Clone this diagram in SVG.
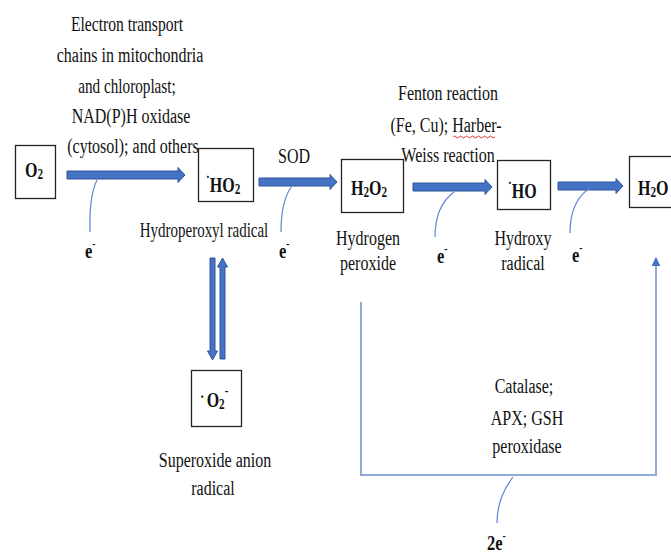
<svg xmlns="http://www.w3.org/2000/svg" width="671" height="553" viewBox="0 0 671 553">
<defs>
<style>
.t{font-family:"Liberation Serif","Times New Roman",serif;font-size:20px;fill:#111;text-anchor:middle}
.e{font-family:"Liberation Serif","Times New Roman",serif;font-size:22px;font-weight:bold;fill:#111}
.b{font-family:"Liberation Serif","Times New Roman",serif;font-size:20px;font-weight:bold;fill:#111}
.box{fill:#fff;stroke:#222;stroke-width:1.3}
.ar{fill:#4472C4;stroke:#2F5597;stroke-width:1}
.ln{fill:none;stroke:#5B86D1;stroke-width:1.2}
.br{fill:none;stroke:#8FAADC;stroke-width:2}
</style>
<marker id="ah" viewBox="0 0 10 10" refX="9" refY="5" markerWidth="9" markerHeight="9" markerUnits="userSpaceOnUse" orient="auto">
<path d="M0,0 L10,5 L0,10 z" fill="#4472C4"/>
</marker>
</defs>
<rect width="671" height="553" fill="#fff"/>

<g id="connectors">
<polygon class="ar" points="67,171 178,171 178,167.5 185,175 178,182.5 178,179 67,179"/>
<polygon class="ar" points="259,178 330,178 330,174.5 337,182 330,189.5 330,186 259,186"/>
<polygon class="ar" points="413,183 485,183 485,179.5 492,187 485,194.5 485,191 413,191"/>
<polygon class="ar" points="558,182 616,182 616,178.5 623,186 616,193.5 616,190 558,190"/>
<polygon class="ar" points="210,258 215,258 215,351 217.5,351 212.5,360 207.5,351 210,351"/>
<polygon class="ar" points="220,359 225,359 225,267 227.5,267 222.5,258 217.5,267 220,267"/>
<path class="ln" d="M97,180 Q89,196 90,232"/>
<path class="ln" d="M292,186 Q281,200 281,232"/>
<path class="ln" d="M454,192 Q435,206 435,237"/>
<path class="ln" d="M590,188 Q570,201 570,233"/>
<path class="br" d="M361,302 V475 H656 V258" marker-end="url(#ah)"/>
<path class="ln" d="M513,477 Q497,498 497,523"/>
<path d="M453,137 q1.5,-2 3,0 t3,0 t3,0 t3,0 t3,0 t3,0 t3,0 t3,0 t3,0 t3,0 t3,0 t3,0 t3,0 t3,0" fill="none" stroke="#e02020" stroke-width="0.9"/>
</g>

<g id="label-source">
<text class="t" transform="translate(127,31) scale(0.78,1)">Electron transport</text>
<text class="t" transform="translate(130,62) scale(0.8,1)">chains in mitochondria</text>
<text class="t" transform="translate(127,93) scale(0.76,1)">and chloroplast;</text>
<text class="t" transform="translate(131,123) scale(0.8,1)">NAD(P)H oxidase</text>
<text class="t" transform="translate(133,153) scale(0.8,1)">(cytosol); and others</text>
</g>

<g id="node-O2">
<rect class="box" x="15.5" y="145.5" width="40" height="53"/>
<text class="b" transform="translate(25,177) scale(0.8,1)">O<tspan font-size="14" dy="2">2</tspan></text>
</g>

<g id="node-HO2">
<rect class="box" x="198.5" y="148.5" width="55" height="53"/>
<text class="b" transform="translate(206,192) scale(0.8,1)"><tspan font-size="14" dy="-10">·</tspan><tspan dy="10">HO</tspan><tspan font-size="14" dy="2">2</tspan></text>
<text class="t" transform="translate(204,237) scale(0.75,1)">Hydroperoxyl radical</text>
</g>

<g id="label-SOD">
<text class="t" transform="translate(294,163) scale(0.8,1)">SOD</text>
</g>

<g id="node-H2O2">
<rect class="box" x="341.5" y="159.5" width="62" height="53"/>
<text class="b" transform="translate(351,195) scale(0.8,1)">H<tspan font-size="14" dy="2">2</tspan><tspan dy="-2">O</tspan><tspan font-size="14" dy="2">2</tspan></text>
<text class="t" transform="translate(368,245) scale(0.8,1)">Hydrogen</text>
<text class="t" transform="translate(368,270) scale(0.8,1)">peroxide</text>
</g>

<g id="label-fenton">
<text class="t" transform="translate(448,100) scale(0.8,1)">Fenton reaction</text>
<text class="t" transform="translate(446,132) scale(0.8,1)">(Fe, Cu); Harber-</text>
<text class="t" transform="translate(448,162) scale(0.8,1)">Weiss reaction</text>
</g>

<g id="node-HO">
<rect class="box" x="497.5" y="160.5" width="53" height="49"/>
<text class="b" transform="translate(508,198) scale(0.8,1)"><tspan font-size="14" dy="-10">·</tspan><tspan dy="10">HO</tspan></text>
<text class="t" transform="translate(523,245) scale(0.8,1)">Hydroxy</text>
<text class="t" transform="translate(523,270) scale(0.8,1)">radical</text>
</g>

<g id="node-H2O">
<rect class="box" x="629.5" y="156.5" width="50" height="51"/>
<text class="b" transform="translate(638,195) scale(0.8,1)">H<tspan font-size="14" dy="2">2</tspan><tspan dy="-2">O</tspan></text>
</g>

<g id="node-O2-anion">
<rect class="box" x="191.5" y="370.5" width="50" height="56"/>
<text class="b" transform="translate(200,407) scale(0.8,1)"><tspan font-size="16" dy="-5">·</tspan><tspan dx="3" dy="5">O</tspan><tspan font-size="14" dy="2">2</tspan><tspan font-size="14" dy="-14">-</tspan></text>
<text class="t" transform="translate(215,467) scale(0.8,1)">Superoxide anion</text>
<text class="t" transform="translate(213,495) scale(0.8,1)">radical</text>
</g>

<g id="label-catalase">
<text class="t" transform="translate(524,393) scale(0.8,1)">Catalase;</text>
<text class="t" transform="translate(527,425) scale(0.8,1)">APX; GSH</text>
<text class="t" transform="translate(527,453) scale(0.8,1)">peroxidase</text>
</g>

<g id="electrons">
<text class="e" transform="translate(85,258) scale(0.75,1)">e<tspan font-size="13" dy="-10">-</tspan></text>
<text class="e" transform="translate(279,258) scale(0.75,1)">e<tspan font-size="13" dy="-10">-</tspan></text>
<text class="e" transform="translate(437,263) scale(0.75,1)">e<tspan font-size="13" dy="-10">-</tspan></text>
<text class="e" transform="translate(572,262) scale(0.75,1)">e<tspan font-size="13" dy="-10">-</tspan></text>
<text class="e" transform="translate(487,550) scale(0.75,1)">2e<tspan font-size="13" dy="-10">-</tspan></text>
</g>
</svg>
